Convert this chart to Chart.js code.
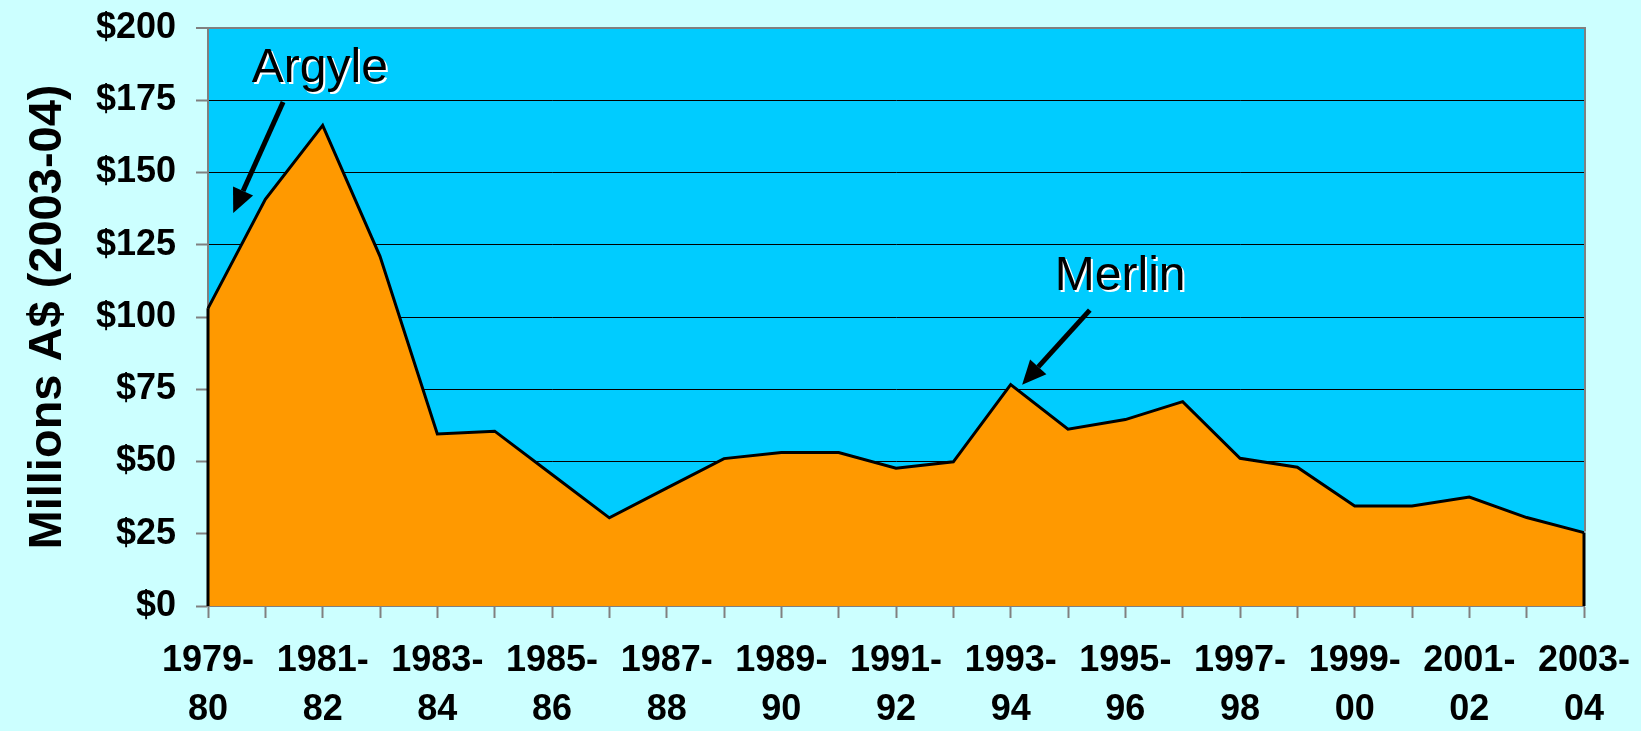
<!DOCTYPE html>
<html>
<head>
<meta charset="utf-8">
<script src="https://cdn.jsdelivr.net/npm/chart.js@4.4.1/dist/chart.umd.min.js"></script>
<style>
  html, body { margin: 0; padding: 0; background: #CCFFFF; }
  #wrap { width: 1641px; height: 731px; }
</style>
</head>
<body>
<div id="wrap"><canvas id="chart"></canvas></div>
<script>
// financial years, 1979-80 .. 2003-04
const years = [
  '1979-80', '1980-81', '1981-82', '1982-83', '1983-84', '1984-85', '1985-86',
  '1986-87', '1987-88', '1988-89', '1989-90', '1990-91', '1991-92', '1992-93',
  '1993-94', '1994-95', '1995-96', '1996-97', '1997-98', '1998-99', '1999-00',
  '2000-01', '2001-02', '2002-03', '2003-04'
];
// exploration spend, millions A$ (2003-04 dollars)
const spend = [
  103, 140.7, 166.3, 121, 59.5, 60.5, 45.5,
  30.5, 40.8, 51, 53.1, 53.1, 47.7, 49.9,
  76.6, 61.2, 64.5, 70.7, 51.1, 48, 34.6,
  34.6, 37.7, 30.6, 25.4
];
const yTicks = [0, 25, 50, 75, 100, 125, 150, 175, 200];

// callouts, anchored in data units (category index, value)
const notes = [
  { text: 'Argyle', at: [1.95, 181.3], from: [1.31, 174.4], to: [0.44, 136] },
  { text: 'Merlin', at: [15.91, 109.3], from: [15.38, 102.4], to: [14.2, 76.6] }
];

const FONT = "'Liberation Sans', Arial, sans-serif";

const plotFrame = {
  id: 'plotFrame',
  beforeDraw(chart) {
    const { ctx, chartArea: a } = chart;
    ctx.save();
    ctx.fillStyle = '#CCFFFF';
    ctx.fillRect(0, 0, chart.width, chart.height);
    ctx.fillStyle = '#00CCFF';
    ctx.fillRect(a.left, a.top, a.right - a.left, a.bottom - a.top);
    ctx.restore();
  },
  afterDatasetsDraw(chart) {
    const { ctx, chartArea: a } = chart;
    const xs = chart.scales.x, ys = chart.scales.y;
    const last = spend.length - 1;
    ctx.save();
    // closing edges of the area
    ctx.strokeStyle = '#000';
    ctx.lineWidth = 3;
    ctx.beginPath();
    ctx.moveTo(xs.getPixelForValue(last), ys.getPixelForValue(spend[last]));
    ctx.lineTo(xs.getPixelForValue(last), ys.getPixelForValue(0));
    ctx.moveTo(xs.getPixelForValue(0), ys.getPixelForValue(spend[0]));
    ctx.lineTo(xs.getPixelForValue(0), ys.getPixelForValue(0));
    ctx.stroke();
    // grey frame on top and right
    ctx.strokeStyle = '#808080';
    ctx.lineWidth = 2;
    ctx.beginPath();
    ctx.moveTo(a.left, a.top);
    ctx.lineTo(a.right + 1, a.top);
    ctx.lineTo(a.right + 1, ys.getPixelForValue(spend[last]) - 1);
    ctx.stroke();
    ctx.restore();
  },
  afterDraw(chart) {
    const { ctx } = chart;
    const xs = chart.scales.x, ys = chart.scales.y;
    const px = p => [xs.getPixelForValue(p[0]), ys.getPixelForValue(p[1])];
    ctx.save();
    notes.forEach(n => {
      const [tx, ty] = px(n.at);
      ctx.font = '48px ' + FONT;
      ctx.textAlign = 'center';
      ctx.textBaseline = 'alphabetic';
      ctx.fillStyle = '#fff';
      ctx.fillText(n.text, tx + 2, ty + 2);
      ctx.fillStyle = '#000';
      ctx.fillText(n.text, tx, ty);

      const [x1, y1] = px(n.from);
      const [x2, y2] = px(n.to);
      const ang = Math.atan2(y2 - y1, x2 - x1);
      const head = 24, half = 11;
      const bx = x2 - head * Math.cos(ang), by = y2 - head * Math.sin(ang);
      ctx.strokeStyle = '#000';
      ctx.lineWidth = 5;
      ctx.beginPath();
      ctx.moveTo(x1, y1);
      ctx.lineTo(bx, by);
      ctx.stroke();
      ctx.fillStyle = '#000';
      ctx.beginPath();
      ctx.moveTo(x2, y2);
      ctx.lineTo(bx + half * Math.sin(ang), by - half * Math.cos(ang));
      ctx.lineTo(bx - half * Math.sin(ang), by + half * Math.cos(ang));
      ctx.closePath();
      ctx.fill();
    });
    ctx.restore();
  }
};

new Chart(document.getElementById('chart').getContext('2d'), {
  type: 'line',
  data: {
    labels: years,
    datasets: [{
      data: spend,
      fill: 'origin',
      backgroundColor: '#FF9900',
      borderColor: '#000',
      borderWidth: 3,
      pointRadius: 0,
      tension: 0
    }]
  },
  options: {
    responsive: true,
    maintainAspectRatio: false,
    animation: false,
    layout: { padding: { top: 28, right: 57, left: 0, bottom: 0 } },
    plugins: {
      legend: { display: false },
      tooltip: { enabled: false }
    },
    scales: {
      x: {
        type: 'category',
        offset: false,
        afterFit: s => {
          s.height = 125;
          s.paddingLeft = 0;
          s.paddingRight = 0;
        },
        grid: {
          drawOnChartArea: false,
          drawTicks: true,
          tickLength: 12,
          tickColor: '#808080',
          tickWidth: 2
        },
        border: { color: '#808080', width: 2 },
        ticks: {
          autoSkip: false,
          maxRotation: 0,
          padding: 18,
          color: '#000',
          font: { family: FONT, size: 36, weight: 'bold', lineHeight: 1.38 },
          callback: function (v, i) {
            if (i % 2) return '';
            const parts = years[i].split('-');
            return [parts[0] + '-', parts[1]];
          }
        }
      },
      y: {
        min: 0,
        max: 200,
        afterFit: s => {
          s.width = 208;
          s.paddingTop = 0;
          s.paddingBottom = 0;
        },
        afterBuildTicks: s => { s.ticks = yTicks.map(v => ({ value: v })); },
        grid: {
          color: ctx => (ctx.tick && ctx.tick.value === 200 ? '#808080' : '#000'),
          lineWidth: ctx => (ctx.tick && ctx.tick.value === 200 ? 2 : 1),
          tickLength: 12,
          tickColor: '#808080',
          tickWidth: 2
        },
        border: { color: '#808080', width: 2 },
        ticks: {
          padding: 20,
          color: '#000',
          font: { family: FONT, size: 36, weight: 'bold' },
          callback: v => '$' + v
        },
        title: {
          display: true,
          text: 'Millions A$ (2003-04)',
          color: '#000',
          font: { family: FONT, size: 47, weight: 'bold', lineHeight: 1.2 },
          padding: { top: 20, bottom: 0 }
        }
      }
    }
  },
  plugins: [plotFrame]
});
</script>
</body>
</html>
